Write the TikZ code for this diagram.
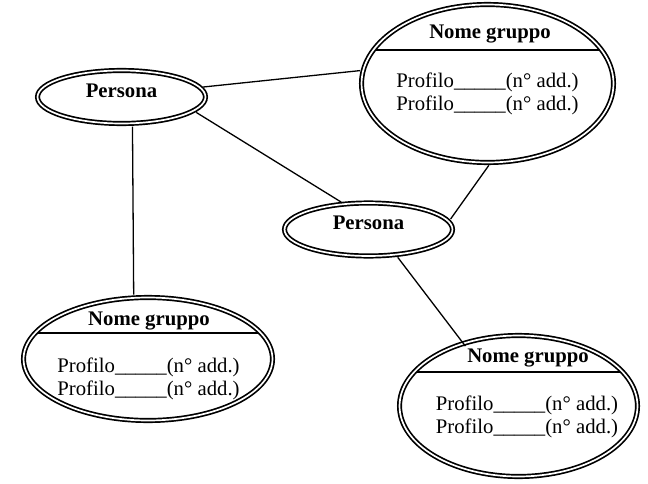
\documentclass[tikz,border=0pt]{standalone}
\usepackage{fontspec}
\setmainfont{Liberation Serif}
\usetikzlibrary{shapes.geometric}

\tikzset{
  ring/.style={ellipse, draw, double, line width=0.034cm, double distance=0.034cm, inner sep=0pt},
  chord/.style={path picture={\draw[line width=0.026cm] ([yshift=#1]path picture bounding box.west) -- ([yshift=#1]path picture bounding box.east);}},
  persona/.style={ring, minimum width=3.36cm, minimum height=1.06cm, text height=0pt, text depth=0pt, font=\fontsize{11.8}{13}\selectfont\bfseries},
  gruppo/.style={ring, chord=#1},
  grptitle/.style={anchor=base, inner sep=0pt, font=\fontsize{11.8}{13}\selectfont\bfseries},
  voce/.style={anchor=base, inner sep=0pt, font=\fontsize{11.8}{13}\selectfont},
  link/.style={line width=0.026cm, shorten <=0.05cm, shorten >=0.05cm}
}

\begin{document}
\begin{tikzpicture}[x=0.02cm,y=-0.02cm]
  \useasboundingbox (0,0) rectangle (648,483);

  % the two persons
  \node[persona] (p1) at (121.5,97) {Persona};
  \node[persona] (p2) at (368.5,229.5) {Persona};

  % the groups
  \node[gruppo=0.67cm, minimum width=5.04cm, minimum height=3.16cm] (g1) at (487.5,83.5) {};
  \node[grptitle] (g1t) at (490,39) {Nome gruppo};
  \node[voce] (g1a) at (487.5,88) {Profilo\_\_\_\_\_(n° add.)};
  \node[voce] (g1b) at (487.5,111) {Profilo\_\_\_\_\_(n° add.)};

  \node[gruppo=0.52cm, minimum width=4.98cm, minimum height=2.46cm] (g2) at (148,359) {};
  \node[grptitle] (g2t) at (149,325) {Nome gruppo};
  \node[voce] (g2a) at (148.5,372) {Profilo\_\_\_\_\_(n° add.)};
  \node[voce] (g2b) at (148.5,395) {Profilo\_\_\_\_\_(n° add.)};

  \node[gruppo=0.68cm, minimum width=4.76cm, minimum height=2.82cm] (g3) at (518.5,406) {};
  \node[grptitle] (g3t) at (528,362) {Nome gruppo};
  \node[voce] (g3a) at (527,410) {Profilo\_\_\_\_\_(n° add.)};
  \node[voce] (g3b) at (527,433) {Profilo\_\_\_\_\_(n° add.)};

  % links
  \draw[link] (p1.7) -- (g1.174);
  \draw[link] (p1.-11) -- (p2.134);
  \draw[link] (p1.-68) -- (g2.103);
  \draw[link] (g1.-88) -- (p2.6);
  \draw[link] (p2.-43) -- (g3t.north west);
\end{tikzpicture}
\end{document}
